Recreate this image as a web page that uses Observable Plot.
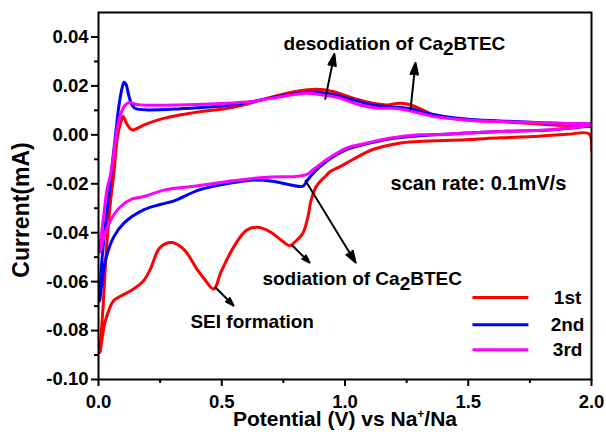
<!DOCTYPE html>
<html><head><meta charset="utf-8">
<script src="https://cdn.jsdelivr.net/npm/d3@7"></script>
<script src="https://cdn.jsdelivr.net/npm/@observablehq/plot@0.6"></script>
<style>
body{margin:0;background:#fff;}
svg text{font-family:"Liberation Sans",Arial,sans-serif;font-weight:bold;}
</style></head><body><div id="chart"></div>
<script>
// ---- data (potential V vs Na+/Na, current mA) ----
const cycles = ["1st", "2nd", "3rd"];
const colors = ["#ff0000", "#0000ff", "#ff00ff"];

const c1V = [2.0,1.99,1.9,1.76,1.63,1.49,1.3,1.22,1.11,1.03,0.98,0.94,0.925,0.9,0.884,0.863,0.85,0.83,0.80,0.775,0.747,0.694,0.644,0.6,0.55,0.497,0.468,0.43,0.40,0.348,0.299,0.25,0.21,0.183,0.142,0.089,0.061,0.028,0.015,0.006,
             0.012,0.02,0.032,0.049,0.062,0.077,0.09,0.10,0.117,0.137,0.185,0.253,0.334,0.416,0.524,0.6,0.707,0.80,0.884,0.95,1.033,1.114,1.169,1.223,1.26,1.30,1.36,1.49,1.63,1.83,2.0];
const c1I = [-0.006,0.0004,0.0002,-0.0007,-0.0012,-0.002,-0.0027,-0.0034,-0.0061,-0.0102,-0.013,-0.015,-0.0165,-0.019,-0.021,-0.0265,-0.0333,-0.040,-0.0435,-0.0453,-0.0435,-0.0395,-0.0378,-0.039,-0.0456,-0.056,-0.063,-0.059,-0.055,-0.047,-0.044,-0.046,-0.055,-0.0596,-0.063,-0.066,-0.0678,-0.076,-0.083,-0.089,
             -0.08,-0.068,-0.047,-0.027,-0.016,-0.0007,0.0049,0.0075,0.0041,0.002,0.0041,0.0064,0.0082,0.0095,0.0109,0.0125,0.0156,0.0177,0.0186,0.0177,0.015,0.0129,0.0122,0.0129,0.0124,0.0109,0.0082,0.0061,0.0054,0.0041,0.0034];

const c2V = [2.0,1.83,1.63,1.49,1.36,1.30,1.18,1.087,1.006,0.925,0.87,0.843,0.83,0.78,0.706,0.633,0.55,0.409,0.307,0.25,0.185,0.104,0.063,0.029,0.012,0.005,
             0.015,0.03,0.043,0.057,0.07,0.083,0.097,0.104,0.112,0.124,0.138,0.151,0.2,0.334,0.524,0.62,0.707,0.80,0.88,0.95,1.033,1.114,1.2,1.26,1.30,1.36,1.49,1.63,1.83,2.0];
const c2I = [0.0036,0.002,0.0014,0.0007,0.0,-0.0004,-0.0017,-0.0037,-0.006,-0.0108,-0.0158,-0.0192,-0.021,-0.0205,-0.019,-0.0185,-0.0195,-0.0225,-0.027,-0.0285,-0.0306,-0.036,-0.0415,-0.051,-0.062,-0.068,
             -0.05,-0.035,-0.0237,-0.011,0.0008,0.012,0.0197,0.0215,0.0205,0.0156,0.0118,0.0107,0.0102,0.0107,0.012,0.0135,0.0152,0.0168,0.0175,0.0165,0.0143,0.0122,0.0113,0.0108,0.0098,0.0082,0.0065,0.0057,0.0048,0.0044];

const c3V = [2.0,1.83,1.63,1.49,1.36,1.30,1.18,1.087,1.006,0.925,0.87,0.843,0.80,0.70,0.633,0.543,0.388,0.273,0.185,0.137,0.09,0.05,0.022,0.009,0.005,
             0.007,0.02,0.035,0.05,0.077,0.09,0.104,0.124,0.15,0.172,0.32,0.524,0.62,0.707,0.843,0.91,0.98,1.06,1.14,1.22,1.30,1.36,1.49,1.63,1.83,2.0];
const c3I = [0.0038,0.002,0.0014,0.0007,0.0,0.0,-0.0014,-0.0034,-0.0054,-0.0102,-0.0143,-0.0163,-0.017,-0.0172,-0.0177,-0.0188,-0.021,-0.0224,-0.0252,-0.0262,-0.0293,-0.0347,-0.0415,-0.047,-0.048,
             -0.045,-0.034,-0.022,-0.0156,0.0034,0.0085,0.0116,0.0132,0.0125,0.0122,0.0122,0.0129,0.0136,0.015,0.017,0.0163,0.015,0.0122,0.0109,0.0107,0.0089,0.0075,0.0061,0.0054,0.0048,0.0045];

const xTicks = [0, 0.5, 1.0, 1.5, 2.0];
const xMinor = [0.25, 0.75, 1.25, 1.75];
const yTicks = [-0.10, -0.08, -0.06, -0.04, -0.02, 0.00, 0.02, 0.04];
const yMinor = [-0.09, -0.07, -0.05, -0.03, -0.01, 0.01, 0.03];

// annotations (data coordinates)
const noteText = ["desodiation of Ca_2BTEC", "sodiation of Ca_2BTEC", "SEI formation", "scan rate: 0.1mV/s"];
const noteX = [0.751, 0.665, 0.373, 1.185];
const noteY = [0.0371, -0.0588, -0.0765, -0.0198];
const noteSize = [19, 19, 19, 20];
const arrowX1 = [0.92, 1.266, 0.84, 0.787, 0.475];
const arrowY1 = [0.0147, 0.0106, -0.0188, -0.0453, -0.0624];
const arrowX2 = [0.957, 1.286, 1.043, 0.856, 0.548];
const arrowY2 = [0.033, 0.0294, -0.0522, -0.0522, -0.0698];
const legendX1 = 1.517, legendX2 = 1.744, legendTextX = 1.903;
const legendY = [-0.0665, -0.0776, -0.0878];

// ---- build ----
const rows = [];
[[c1V, c1I], [c2V, c2I], [c3V, c3I]].forEach(([V, I], k) =>
  V.forEach((v, j) => rows.push({cycle: cycles[k], v, i: I[j]})));
const notes = noteText.map((t, k) => ({t, x: noteX[k], y: noteY[k], s: noteSize[k]}));
const arrows = arrowX1.map((x1, k) => ({x1, y1: arrowY1[k], x2: arrowX2[k], y2: arrowY2[k]}));
const legend = cycles.map((c, k) => ({c, y: legendY[k]}));

const plot = Plot.plot({
  width: 606, height: 432,
  marginLeft: 98, marginRight: 15, marginTop: 12, marginBottom: 53,
  style: {background: "white", color: "black", fontFamily: "Liberation Sans, Arial, sans-serif", fontWeight: "bold"},
  x: {domain: [0, 2]},
  y: {domain: [-0.10, 0.05]},
  color: {domain: cycles, range: colors},
  marks: [
    Plot.line(rows, {x: "v", y: "i", z: "cycle", stroke: "cycle", strokeWidth: 3, curve: "catmull-rom", clip: true}),
    Plot.link(legend, {x1: () => legendX1, x2: () => legendX2, y1: "y", y2: "y", stroke: "c", strokeWidth: 3}),
    Plot.text(legend, {x: () => legendTextX, y: "y", text: "c", fontSize: 19, fontWeight: "bold", fill: "black", textAnchor: "middle"}),
    Plot.arrow(arrows, {x1: "x1", y1: "y1", x2: "x2", y2: "y2", stroke: "black", strokeWidth: 2, headLength: 9, headAngle: 36}),
    ...notes.map(n => Plot.text([n], {x: "x", y: "y", text: "t", textAnchor: "start", lineAnchor: "middle", fontSize: n.s, fontWeight: "bold", fill: "black"})),
    Plot.frame({stroke: "black", strokeWidth: 2}),
    Plot.axisX(xTicks, {tickSize: 7, tickPadding: 8, tickFormat: d => d.toFixed(1), fontSize: 18.5, fontWeight: "bold", stroke: "black", strokeWidth: 2, label: null}),
    Plot.axisX(xMinor, {tickSize: 4, tickFormat: () => "", stroke: "black", strokeWidth: 2, label: null}),
    Plot.axisY(yTicks, {tickSize: 7, tickPadding: 3, tickFormat: d => d.toFixed(2), fontSize: 18.5, fontWeight: "bold", stroke: "black", strokeWidth: 2, label: null}),
    Plot.axisY(yMinor, {tickSize: 4, tickFormat: () => "", stroke: "black", strokeWidth: 2, label: null}),
    Plot.text(["Current(mA)"], {text: d => d, frameAnchor: "left", dx: -76.5, dy: 14, rotate: -90, textAnchor: "middle", lineAnchor: "middle", fontSize: 23, fontWeight: "bold", fill: "black"}),
    Plot.text(["Potential (V) vs Na^+/Na"], {text: d => d, frameAnchor: "bottom", dy: 40, textAnchor: "middle", lineAnchor: "middle", fontSize: 21, fontWeight: "bold", fill: "black"})
  ]
});
document.getElementById("chart").appendChild(plot);

// ---- post-process: filled arrowheads, sub/superscripts ----
const ns = "http://www.w3.org/2000/svg";
plot.querySelectorAll('g[aria-label="arrow"] path').forEach(p => {
  const n = (p.getAttribute("d") || "").match(/-?\d*\.?\d+(?:e-?\d+)?/g);
  if (n && n.length >= 10) {
    const a = n.map(Number);
    const h = document.createElementNS(ns, "path");
    h.setAttribute("d", `M${a[4]},${a[5]}L${a[6]},${a[7]}L${a[8]},${a[9]}Z`);
    h.setAttribute("fill", "black");
    h.setAttribute("stroke", "black");
    h.setAttribute("stroke-width", "1");
    p.parentNode.appendChild(h);
  }
});
plot.querySelectorAll("text").forEach(t => {
  const s = t.textContent;
  if (s.includes("_2")) {
    const [a, b] = s.split("_2");
    t.textContent = "";
    const t1 = document.createElementNS(ns, "tspan"); t1.textContent = a;
    const t2 = document.createElementNS(ns, "tspan"); t2.textContent = "2"; t2.setAttribute("dy", "5");
    const t3 = document.createElementNS(ns, "tspan"); t3.textContent = b; t3.setAttribute("dy", "-5");
    t.append(t1, t2, t3);
  } else if (s.includes("^+")) {
    const [a, b] = s.split("^+");
    t.textContent = "";
    const t1 = document.createElementNS(ns, "tspan"); t1.textContent = a;
    const t2 = document.createElementNS(ns, "tspan"); t2.textContent = "+"; t2.setAttribute("dy", "-8"); t2.setAttribute("font-size", "12");
    const t3 = document.createElementNS(ns, "tspan"); t3.textContent = b; t3.setAttribute("dy", "8");
    t.append(t1, t2, t3);
  }
});
</script></body></html>
